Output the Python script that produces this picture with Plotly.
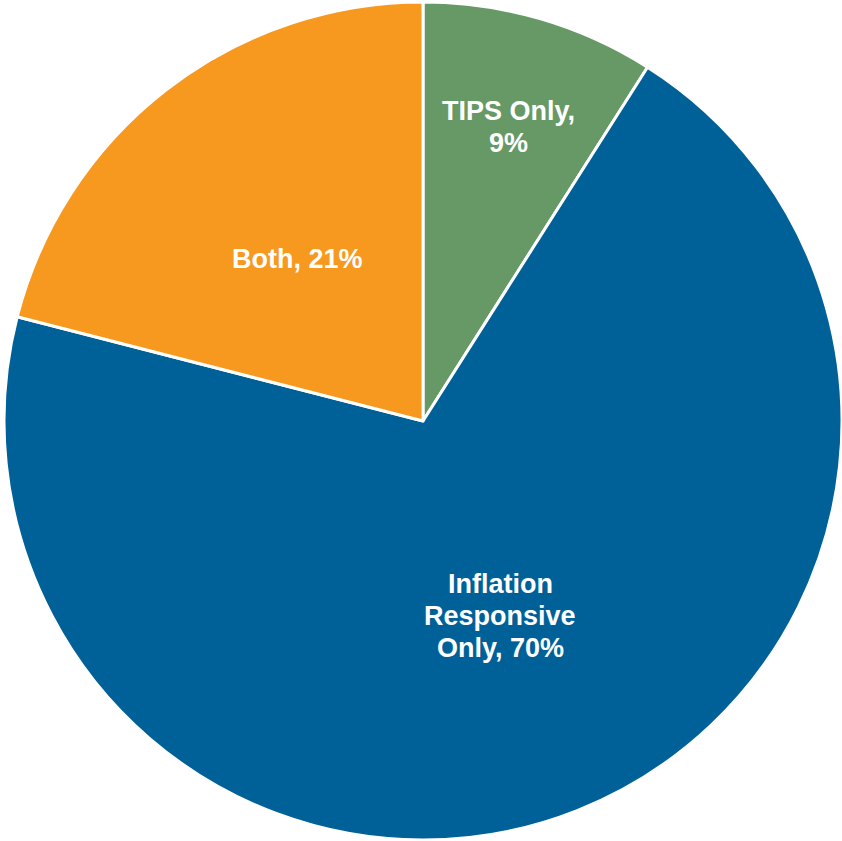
import math
import plotly.graph_objects as go

# Share of funds by inflation-protection approach
categories = ["TIPS Only", "Inflation Responsive Only", "Both"]
label_lines = [["TIPS Only,"], ["Inflation", "Responsive", "Only,"], ["Both,"]]
shares = [9, 70, 21]
colors = ["#669966", "#006199", "#F7981F"]

# radial placement of each label, as a fraction of the pie radius
label_radius = [0.73, 0.5, 0.49]
font_size = 27
line_gap = 32  # px between text lines

fig = go.Figure(
    go.Pie(
        labels=categories,
        values=shares,
        textinfo="none",
        sort=False,
        direction="clockwise",
        rotation=0,
        marker=dict(colors=colors, line=dict(color="white", width=3)),
        hoverinfo="label+percent",
        showlegend=False,
        domain=dict(x=[0, 1], y=[0, 1]),
    )
)

# Place labels at the middle angle of each slice (clockwise from 12 o'clock)
total = sum(shares)
cum = 0
for name_lines, value, rf in zip(label_lines, shares, label_radius):
    mid = (cum + value / 2) / total
    cum += value
    theta = 2 * math.pi * mid
    cx = 0.5 + 0.5 * rf * math.sin(theta)
    cy = 0.5 + 0.5 * rf * math.cos(theta)
    lines = list(name_lines)
    if len(lines) == 1 and value > 15:
        lines = [f"{lines[0]} {value}%"]
    elif lines[-1].endswith(",") and len(lines) > 1 and value > 50:
        lines[-1] = f"{lines[-1]} {value}%"
    else:
        lines.append(f"{value}%")
    n = len(lines)
    for i, txt in enumerate(lines):
        fig.add_annotation(
            x=cx,
            y=cy,
            xref="paper",
            yref="paper",
            text=f"<b>{txt}</b>",
            showarrow=False,
            xanchor="center",
            yanchor="middle",
            yshift=((n - 1) / 2 - i) * line_gap,
            font=dict(family="Liberation Sans, Arial, sans-serif", size=font_size, color="white"),
        )

fig.update_layout(
    width=842,
    height=841,
    margin=dict(l=4, r=0, t=2, b=1),
    paper_bgcolor="white",
    plot_bgcolor="white",
    showlegend=False,
)

fig.write_html("out.html")
